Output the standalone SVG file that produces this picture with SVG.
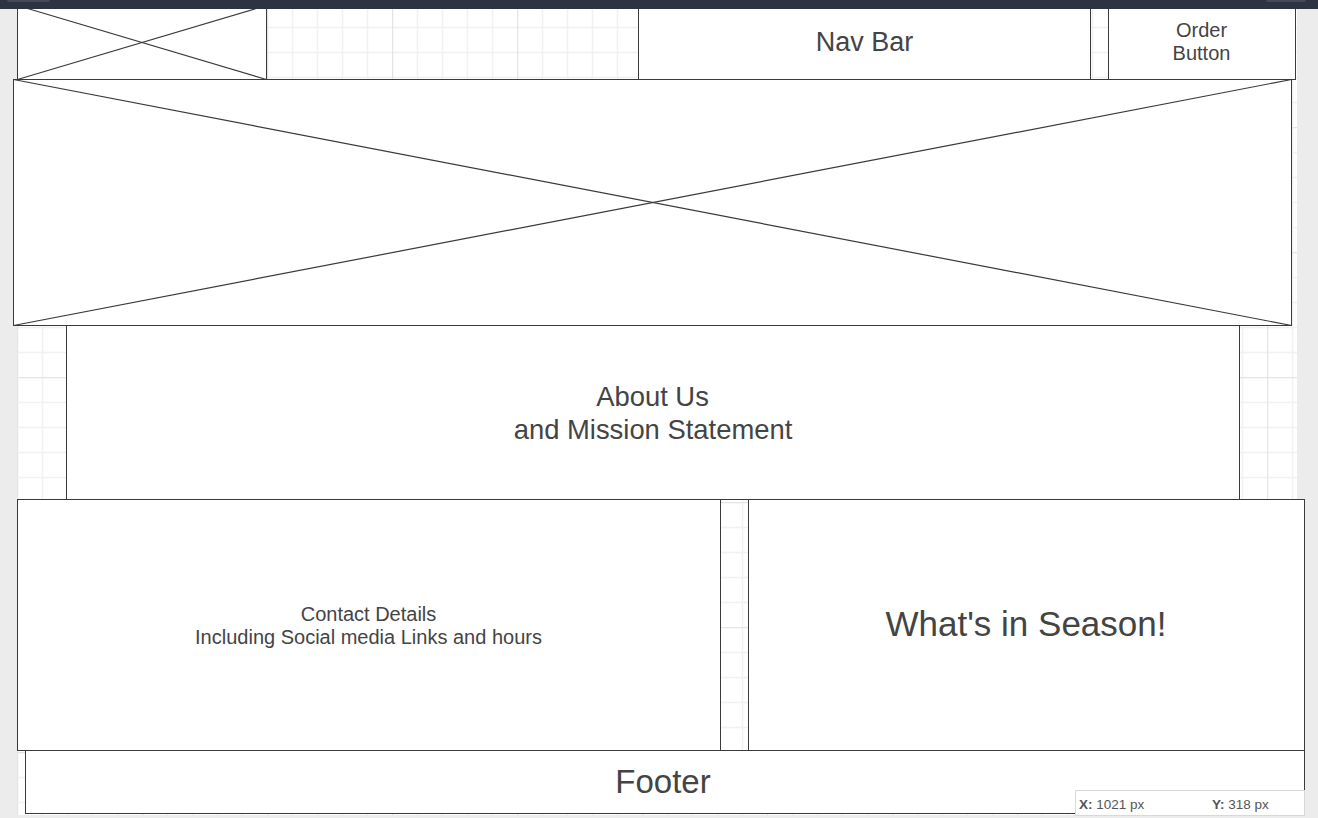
<svg xmlns="http://www.w3.org/2000/svg" width="1318" height="818" viewBox="0 0 1318 818">
<style>
.box{fill:#ffffff;stroke:#3a3a3a;stroke-width:1}
.x{stroke:#3a3a3a;stroke-width:1.2;fill:none}
.t{font-family:"Liberation Sans",Arial,sans-serif;fill:#444444;text-anchor:middle}
.ro{font-family:"Liberation Sans",Arial,sans-serif;fill:#555555;font-size:13.5px}
</style>
<defs>
<pattern id="grid" x="17" y="2" width="125" height="125" patternUnits="userSpaceOnUse">
<rect width="125" height="125" fill="#ffffff"/>
<path d="M25.5 0V125M50.5 0V125M75.5 0V125M100.5 0V125M0 25.5H125M0 50.5H125M0 75.5H125M0 100.5H125" stroke="#f1f1f1" stroke-width="1.5" fill="none"/>
<path d="M0.5 0V125M0 0.5H125" stroke="#e4e4e4" stroke-width="1.5" fill="none"/>
</pattern>
</defs>
<rect x="0" y="0" width="1318" height="818" fill="#ececec"/>
<rect x="17" y="9" width="1280" height="806" fill="url(#grid)"/>

<g id="logo">
<rect class="box" x="17.5" y="5.5" width="249" height="74"/>
<line class="x" x1="17.5" y1="79.5" x2="266.5" y2="5.5"/>
<line class="x" x1="266.5" y1="79.5" x2="17.5" y2="5.5"/>
</g>
<g id="navbar">
<rect class="box" x="638.5" y="5.5" width="452" height="74"/>
<text class="t" x="864.5" y="51" font-size="27">Nav Bar</text>
</g>
<g id="order">
<rect class="box" x="1108.5" y="5.5" width="187" height="74"/>
<text class="t" x="1201.5" y="36.5" font-size="20">Order</text>
<text class="t" x="1201.5" y="59.5" font-size="20">Button</text>
</g>
<g id="hero">
<rect class="box" x="13.5" y="79.5" width="1278" height="246"/>
<line class="x" x1="13.5" y1="79.5" x2="1291.5" y2="325.5"/>
<line class="x" x1="1291.5" y1="79.5" x2="13.5" y2="325.5"/>
</g>
<g id="about">
<rect class="box" x="66.5" y="325.5" width="1173" height="174"/>
<text class="t" x="652.5" y="405.5" font-size="27.4">About Us</text>
<text class="t" x="653" y="438.5" font-size="27.4">and Mission Statement</text>
</g>
<g id="contact">
<rect class="box" x="17.5" y="499.5" width="703" height="251"/>
<text class="t" x="368.5" y="621" font-size="20">Contact Details</text>
<text class="t" x="368.5" y="643.5" font-size="20">Including Social media Links and hours</text>
</g>
<g id="season">
<rect class="box" x="748.5" y="499.5" width="556" height="251"/>
<text class="t" x="1026" y="636" font-size="35">What's in Season!</text>
</g>
<g id="footer">
<rect class="box" x="25.5" y="750.5" width="1279" height="63"/>
<text class="t" x="663" y="792.5" font-size="33">Footer</text>
</g>
<g id="connectors"></g>

<g id="chrome">
<rect x="0" y="0" width="1318" height="9" fill="#2d3340"/>
<rect x="7" y="-3" width="43" height="5" rx="2" fill="#454b58"/>
<rect x="1266" y="-3" width="40" height="5" rx="2" fill="#454b58"/>
<rect x="1075.5" y="790.5" width="229" height="25" fill="#ffffff" stroke="#d8d8d8" stroke-width="1"/>
<text class="ro" x="1079" y="808.5"><tspan font-weight="bold">X:</tspan> 1021 px</text>
<text class="ro" x="1212" y="808.5"><tspan font-weight="bold">Y:</tspan> 318 px</text>
</g>
</svg>
